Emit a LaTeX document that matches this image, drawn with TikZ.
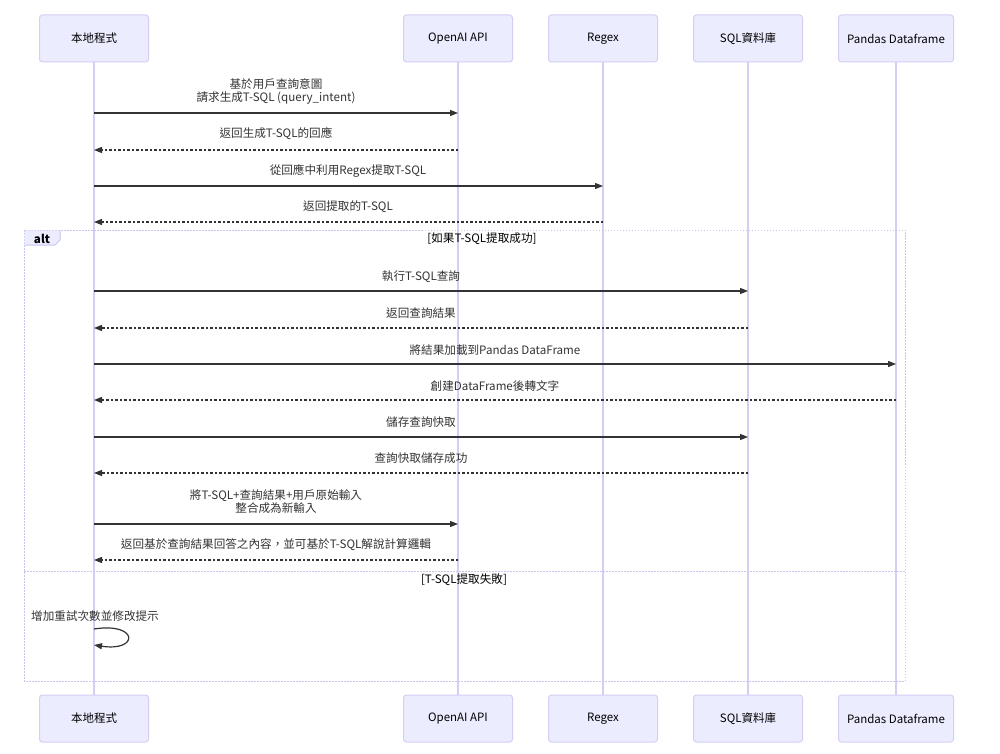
\documentclass[tikz,border=0pt]{standalone}
\usepackage{fontspec}
\setmainfont{Noto Sans CJK TC}
\usetikzlibrary{arrows.meta}
\definecolor{actfill}{HTML}{ECECFF}
\definecolor{actline}{HTML}{D6CDF5}
\definecolor{txt}{HTML}{333333}
\definecolor{altline}{HTML}{C9C4F0}
\begin{document}
\begin{tikzpicture}[x=1pt,y=-1pt,
  actor/.style={draw=actline, fill=actfill, line width=1pt, rounded corners=3pt,
    minimum width=109pt, minimum height=47pt, inner sep=0pt, text=black,
    font=\fontsize{11.5}{13}\selectfont},
  lifeline/.style={draw=actline, line width=1.2pt},
  msg/.style={draw=txt, line width=1.2pt, -{Triangle[length=8pt,width=6pt]}},
  reply/.style={msg, dash pattern=on 2.5pt off 2pt},
  mlabel/.style={text=txt, font=\fontsize{11.6}{13}\selectfont, align=center, inner sep=0pt},
  altbox/.style={draw=altline, line width=1pt, dash pattern=on 1.5pt off 1.5pt},
  clabel/.style={text=black, font=\fontsize{11.6}{13}\selectfont, inner sep=0pt}
]
\useasboundingbox (0,0) rectangle (1000,754);
\fill[white] (0,0) rectangle (1000,754);

% actors top
\node[actor] (a1) at (94,38.5) {本地程式};
\node[actor] (a2) at (458,38.5) {OpenAI API};
\node[actor] (a3) at (603,38.5) {Regex};
\node[actor] (a4) at (748,38.5) {SQL資料庫};
\node[actor, minimum width=115pt] (a5) at (896,38.5) {Pandas Dataframe};
% actors bottom
\node[actor] (b1) at (94,718.5) {本地程式};
\node[actor] (b2) at (458,718.5) {OpenAI API};
\node[actor] (b3) at (603,718.5) {Regex};
\node[actor] (b4) at (748,718.5) {SQL資料庫};
\node[actor, minimum width=115pt] (b5) at (896,718.5) {Pandas Dataframe};

% lifelines
\foreach \i in {1,...,5} { \draw[lifeline] (a\i.south) -- (b\i.north); }

% alt box
\draw[altbox] (24,230) rectangle (905,681);
\draw[altbox] (24,571) -- (905,571);
\fill[actfill] (24.5,230.5) -- (60,230.5) -- (60,240) -- (55,245) -- (24.5,245) -- cycle;
\draw[altline, line width=1pt] (60,230.5) -- (60,240) -- (55,245) -- (24.5,245);
\node[clabel, font=\fontsize{11.6}{13}\selectfont\bfseries] (altlbl) at (42,238.5) {alt};
\node[clabel] (cond1) at (482,239) {[如果T-SQL提取成功]};
\node[clabel] (cond2) at (464,580) {[T-SQL提取失敗]};

% message end coordinates
\coordinate (m1a) at (94,113);  \coordinate (m1b) at (458,113);
\coordinate (m2a) at (458,150); \coordinate (m2b) at (94,150);
\coordinate (m3a) at (94,186);  \coordinate (m3b) at (603,186);
\coordinate (m4a) at (603,222); \coordinate (m4b) at (94,222);
\coordinate (m5a) at (94,291);  \coordinate (m5b) at (748,291);
\coordinate (m6a) at (748,328); \coordinate (m6b) at (94,328);
\coordinate (m7a) at (94,364);  \coordinate (m7b) at (896,364);
\coordinate (m8a) at (896,400); \coordinate (m8b) at (94,400);
\coordinate (m9a) at (94,437);  \coordinate (m9b) at (748,437);
\coordinate (m10a) at (748,473); \coordinate (m10b) at (94,473);
\coordinate (m11a) at (94,524); \coordinate (m11b) at (458,524);
\coordinate (m12a) at (458,560); \coordinate (m12b) at (94,560);
\coordinate (s1) at (94,629); \coordinate (s2) at (94,645);

% messages
\draw[msg] (m1a) -- (m1b);
\node[mlabel] (t1) at (276,91.5) {基於用戶查詢意圖\\請求生成T-SQL (query\_intent)};
\draw[reply] (m2a) -- (m2b);
\node[mlabel] (t2) at (276,133.5) {返回生成T-SQL的回應};
\draw[msg] (m3a) -- (m3b);
\node[mlabel] (t3) at (348,171) {從回應中利用Regex提取T-SQL};
\draw[reply] (m4a) -- (m4b);
\node[mlabel] (t4) at (348,207) {返回提取的T-SQL};
\draw[msg] (m5a) -- (m5b);
\node[mlabel] (t5) at (421,277) {執行T-SQL查詢};
\draw[reply] (m6a) -- (m6b);
\node[mlabel] (t6) at (421,313) {返回查詢結果};
\draw[msg] (m7a) -- (m7b);
\node[mlabel] (t7) at (495,350) {將結果加載到Pandas DataFrame};
\draw[reply] (m8a) -- (m8b);
\node[mlabel] (t8) at (495,386) {創建DataFrame後轉文字};
\draw[msg] (m9a) -- (m9b);
\node[mlabel] (t9) at (421,422) {儲存查詢快取};
\draw[reply] (m10a) -- (m10b);
\node[mlabel] (t10) at (421,458) {查詢快取儲存成功};
\draw[msg] (m11a) -- (m11b);
\node[mlabel] (t11) at (276,501.5) {將T-SQL+查詢結果+用戶原始輸入\\整合成為新輸入};
\draw[reply] (m12a) -- (m12b);
\node[mlabel] (t12) at (276,545) {返回基於查詢結果回答之內容，並可基於T-SQL解說計算邏輯};

% self loop
\draw[msg] (s1) .. controls (139,622) and (139,652) .. (s2);
\node[mlabel] (t13) at (95,616) {增加重試次數並修改提示};
\end{tikzpicture}
\end{document}
